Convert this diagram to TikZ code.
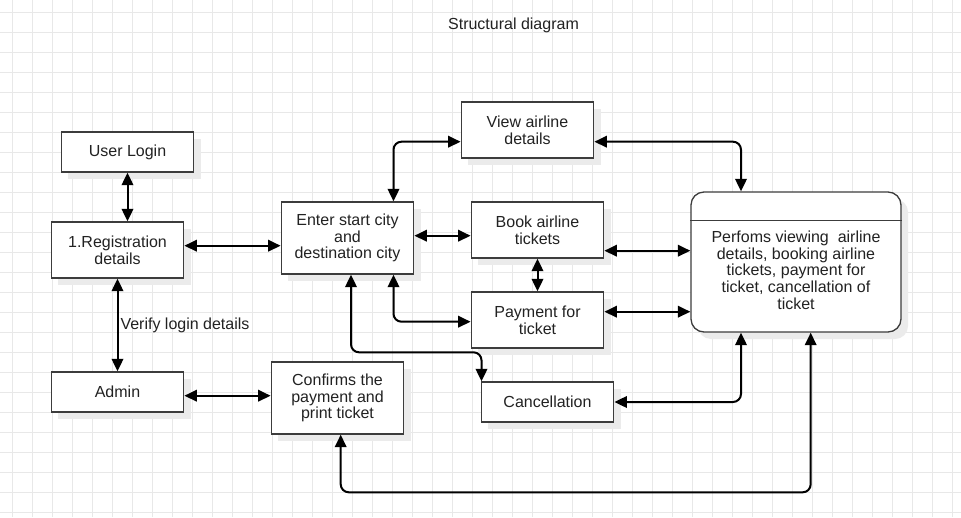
\documentclass[tikz,border=0pt]{standalone}
\usepackage{fontspec}
\setmainfont{Liberation Sans}
\usepackage{tikz}
\usetikzlibrary{arrows.meta,shadows}
\definecolor{gridline}{HTML}{E8E8E8}
\definecolor{boxline}{HTML}{3C3C3C}
\definecolor{boxshadow}{HTML}{EBEBEB}
\definecolor{inktext}{HTML}{222222}

\begin{document}
\begin{tikzpicture}[x=1pt, y=-1pt,
  every node/.style={font=\fontsize{16}{16.7}\selectfont, text=inktext},
  box/.style={draw=boxline, line width=1.3pt, fill=white, minimum width=132.5pt, inner sep=2pt, align=center,
    drop shadow={shadow xshift=7pt, shadow yshift=-7pt, fill=boxshadow, draw=none, opacity=1}},
  link/.style={line width=2pt, rounded corners=8pt,
    {Triangle[length=12.5pt,width=11.5pt]}-{Triangle[length=12.5pt,width=11.5pt]}}]
  \useasboundingbox (0,0) rectangle (961,517);
  \fill[white] (0,0) rectangle (961,517);
  \foreach \g in {12,32,...,952} {
    \draw[gridline, line width=0.7pt] (\g,0) -- (\g,517);
  }
  \foreach \g in {12,32,...,512} {
    \draw[gridline, line width=0.7pt] (0,\g) -- (961,\g);
  }

  \node (title) at (513.5,25) {Structural diagram};
  \node[box, minimum height=40pt] (login) at (127.5,152) {User Login};
  \node[box, minimum height=56pt] (reg) at (117.5,250) {1.Registration\\details};
  \node[box, minimum height=40pt] (admin) at (117.5,392) {Admin};
  \node[box, minimum height=72pt] (enter) at (347.5,238) {Enter start city\\and\\destination city};
  \node[box, minimum height=56pt] (view) at (527.5,130) {View airline\\details};
  \node[box, minimum height=56pt] (book) at (537.5,230) {Book airline\\tickets};
  \node[box, minimum height=56pt] (pay) at (537.5,320) {Payment for\\ticket};
  \node[box, minimum height=40pt] (cancel) at (547.5,402) {Cancellation};
  \node[box, minimum height=72pt] (confirm) at (337.5,398) {Confirms the\\payment and\\print ticket};
  \node[box, rounded corners=13pt, minimum width=210pt, minimum height=140pt] (core) at (796,262) {};
  \draw[boxline, line width=1.3pt] (core.west |- 0,220.7) -- (core.east |- 0,220.7);
  \node[align=center] (coretext) at (796,270)
    {Perfoms viewing\ \ airline\\details, booking airline\\tickets, payment for\\ticket, cancellation of\\ticket};

  \draw[link] (login.south) -- (login.south |- reg.north);
  \draw[link] (reg.east |- 0,245.7) -- (enter.west |- 0,245.7);
  \draw[link] (reg.south) -- node[right, inner sep=2pt] {Verify login details} (admin.north);
  \draw[link] (admin.east |- 0,395.7) -- (confirm.west |- 0,395.7);
  \draw[link] (enter.north -| 393.5,0) |- (view.west |- 0,141.7);
  \draw[link] (enter.east |- 0,235.7) -- (book.west |- 0,235.7);
  \draw[link] (view.east |- 0,141.7) -| (core.north -| 741,0);
  \draw[link] (book.east |- 0,250.7) -- (core.west |- 0,250.7);
  \draw[link] (pay.east |- 0,311.7) -- (core.west |- 0,311.7);
  \draw[link] (book.south) -- (pay.north);
  \draw[link] (enter.south -| 393.5,0) |- (pay.west |- 0,321.7);
  \draw[link] (enter.south -| 351,0) -- (351,352.3) -- (481.5,352.3) -- (cancel.north -| 481.5,0);
  \draw[link] (cancel.east) -| (core.south -| 741,0);
  \draw[link] (confirm.south -| 340.7,0) -- (340.7,492.3) -- (810.7,492.3) -- (core.south -| 810.7,0);
\end{tikzpicture}
\end{document}
